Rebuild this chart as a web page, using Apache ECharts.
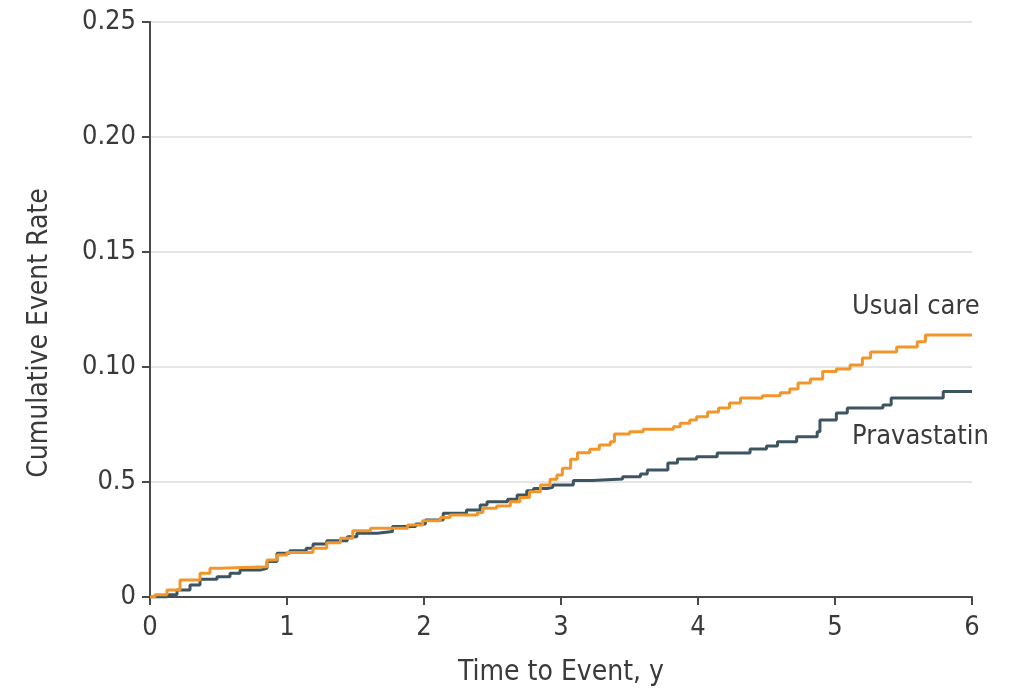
<!DOCTYPE html>
<html>
<head>
<meta charset="utf-8">
<script src="https://cdn.jsdelivr.net/npm/echarts@6/dist/echarts.min.js"></script>
<style>
html,body{margin:0;padding:0;background:#fff;}
#c{width:1013px;height:694px;}
</style>
</head>
<body>
<div id="c"></div>
<script>
// Time (years) and cumulative event rate at each step
var usualCareTimes = [0, 0.036, 0.124, 0.219, 0.365, 0.438, 0.511, 0.854, 0.927, 1.0, 1.19, 1.29, 1.39, 1.48, 1.61, 1.88, 1.99, 2.12, 2.19, 2.39, 2.43, 2.53, 2.63, 2.70, 2.77, 2.85, 2.92, 2.97, 3.01, 3.07, 3.12, 3.21, 3.28, 3.36, 3.39, 3.50, 3.60, 3.82, 3.87, 3.94, 3.99, 4.07, 4.15, 4.23, 4.31, 4.47, 4.60, 4.67, 4.73, 4.82, 4.91, 5.01, 5.11, 5.20, 5.26, 5.45, 5.60, 5.66, 6.0];
var usualCareRates = [0, 0.001, 0.003, 0.0074, 0.0103, 0.0125, 0.0132, 0.0161, 0.0183, 0.0193, 0.0212, 0.0236, 0.0255, 0.0288, 0.0299, 0.0313, 0.0332, 0.0346, 0.0357, 0.0367, 0.0386, 0.0396, 0.0414, 0.0433, 0.0458, 0.0487, 0.0512, 0.053, 0.056, 0.0599, 0.0627, 0.0642, 0.0661, 0.0675, 0.0709, 0.0719, 0.0729, 0.0740, 0.0755, 0.077, 0.0784, 0.0804, 0.0822, 0.0843, 0.0865, 0.0875, 0.0888, 0.0904, 0.093, 0.0948, 0.098, 0.0991, 0.1009, 0.1039, 0.1065, 0.1087, 0.111, 0.1139, 0.1139];

var pravastatinTimes = [0, 0.124, 0.197, 0.292, 0.365, 0.489, 0.584, 0.657, 0.803, 0.854, 0.927, 1.02, 1.14, 1.19, 1.29, 1.44, 1.51, 1.66, 1.77, 1.94, 2.01, 2.14, 2.31, 2.41, 2.46, 2.61, 2.68, 2.75, 2.80, 2.90, 2.94, 3.09, 3.23, 3.45, 3.58, 3.63, 3.78, 3.85, 3.99, 4.14, 4.38, 4.50, 4.58, 4.72, 4.87, 4.89, 5.01, 5.09, 5.35, 5.41, 5.79, 6.0];
var pravastatinRates = [0, 0.001, 0.003, 0.0052, 0.0077, 0.0088, 0.0103, 0.0117, 0.0125, 0.0154, 0.019, 0.0201, 0.0212, 0.023, 0.0245, 0.0262, 0.0277, 0.0285, 0.0306, 0.0317, 0.0335, 0.0364, 0.0378, 0.040, 0.0414, 0.0425, 0.0443, 0.0462, 0.0472, 0.0477, 0.0487, 0.0506, 0.0513, 0.0523, 0.0535, 0.0552, 0.0583, 0.060, 0.061, 0.0626, 0.0643, 0.0657, 0.0675, 0.0697, 0.0719, 0.077, 0.080, 0.0822, 0.0835, 0.0865, 0.0893, 0.0893];

var yTickLabels = ['0', '0.5', '0.10', '0.15', '0.20', '0.25'];
var xTickLabels = ['0', '1', '2', '3', '4', '5', '6'];
var seriesNames = ['Usual care', 'Pravastatin'];
var axisTitles = {x: 'Time to Event, y', y: 'Cumulative Event Rate'};

function pairs(t, v) { return t.map(function (x, i) { return [x, v[i]]; }); }

var FONT = '"Liberation Sans Narrow", "DejaVu Sans Condensed", "Roboto", sans-serif';
var TXT = '#3a3a3a';

var chart = echarts.init(document.getElementById('c'), null, {renderer: 'canvas'});
chart.setOption({
  animation: false,
  backgroundColor: '#fff',
  grid: {left: 150, right: 41, top: 22, bottom: 97, containLabel: false},
  xAxis: {
    type: 'value', min: 0, max: 6, interval: 1,
    name: axisTitles.x, nameLocation: 'middle', nameGap: 62,
    nameTextStyle: {fontFamily: FONT, fontSize: 28, color: TXT},
    axisLine: {show: true, lineStyle: {color: '#4a4a4a', width: 2}},
    axisTick: {show: true, length: 8, lineStyle: {color: '#4a4a4a', width: 2}},
    axisLabel: {margin: 17, fontFamily: FONT, fontSize: 27, color: TXT,
      formatter: function (v) { return xTickLabels[Math.round(v)]; }},
    splitLine: {show: false}
  },
  yAxis: {
    type: 'value', min: 0, max: 0.25, interval: 0.05,
    axisLine: {show: true, lineStyle: {color: '#4a4a4a', width: 2}},
    axisTick: {show: true, length: 8, lineStyle: {color: '#4a4a4a', width: 2}},
    axisLabel: {margin: 14, fontFamily: FONT, fontSize: 27, color: TXT,
      formatter: function (v) { return yTickLabels[Math.round(v / 0.05)]; }},
    splitLine: {show: true, lineStyle: {color: '#dcdcdc', width: 1.5}}
  },
  series: [
    {
      name: seriesNames[0], type: 'line', step: 'end', showSymbol: false,
      data: pairs(usualCareTimes, usualCareRates),
      lineStyle: {color: '#F0962A', width: 3}, z: 3
    },
    {
      name: seriesNames[1], type: 'line', step: 'end', showSymbol: false,
      data: pairs(pravastatinTimes, pravastatinRates),
      lineStyle: {color: '#3C5561', width: 3}, z: 2
    }
  ],
  graphic: [
    {type: 'text', x: 40, y: 333, rotation: Math.PI / 2,
      style: {text: axisTitles.y, font: '28px ' + FONT, fill: TXT, align: 'center', verticalAlign: 'middle'}},
    {type: 'text', left: 852, top: 293, style: {text: seriesNames[0], font: '27px ' + FONT, fill: TXT}},
    {type: 'text', left: 852, top: 423, style: {text: seriesNames[1], font: '27px ' + FONT, fill: TXT}}
  ]
});
</script>
</body>
</html>
